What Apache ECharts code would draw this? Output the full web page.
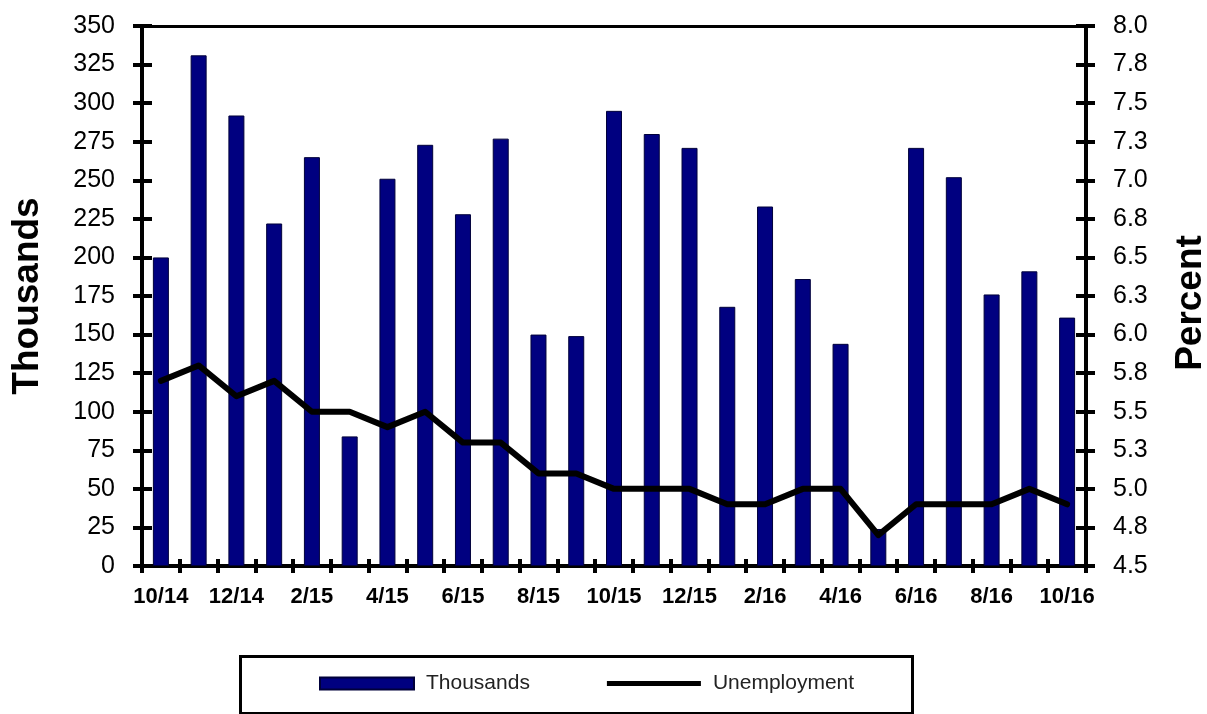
<!DOCTYPE html>
<html>
<head>
<meta charset="utf-8">
<script src="https://cdn.jsdelivr.net/npm/echarts@6/dist/echarts.min.js"></script>
<style>
  html, body { margin: 0; padding: 0; background: #fff; }
  #chart { width: 1207px; height: 714px; }
</style>
</head>
<body>
<div id="chart"></div>
<script>
// Monthly payroll change (thousands) and unemployment rate (percent)
const months = ['10/14','11/14','12/14','1/15','2/15','3/15','4/15','5/15','6/15','7/15','8/15','9/15',
                '10/15','11/15','12/15','1/16','2/16','3/16','4/16','5/16','6/16','7/16','8/16','9/16','10/16'];
const thousands = [200, 331, 292, 222, 265, 84, 251, 273, 228, 277, 150, 149,
                   295, 280, 271, 168, 233, 186, 144, 24, 271, 252, 176, 191, 161];
const unemployment = [5.7, 5.8, 5.6, 5.7, 5.5, 5.5, 5.4, 5.5, 5.3, 5.3, 5.1, 5.1,
                      5.0, 5.0, 5.0, 4.9, 4.9, 5.0, 5.0, 4.7, 4.9, 4.9, 4.9, 5.0, 4.9];
const thousandsAxis = { min: 0, max: 350, interval: 25 };
const percentAxis = { min: 4.5, max: 8.0, interval: 0.25 };

const FONT = "'Liberation Sans', Arial, sans-serif";
const INK = '#000';

function tickAxis(inside) {
  return { show: true, inside: inside, length: inside ? 10 : 9, lineStyle: { color: INK, width: 4 } };
}

const chart = echarts.init(document.getElementById('chart'), null, { renderer: 'canvas' });

chart.setOption({
  backgroundColor: '#fff',
  animation: false,
  grid: { left: 142, right: 121, top: 26, bottom: 148, containLabel: false, outerBoundsMode: 'none' },
  legend: {
    left: 319, top: 673, padding: 0,
    itemWidth: 94, itemHeight: 12, itemGap: 77,
    textStyle: { fontFamily: FONT, fontSize: 21, color: '#222', padding: [0, 0, 0, 7] },
    data: [
      { name: 'Thousands', icon: 'rect' },
      // thick bar of a line, kept in a 94x12 box by the two empty sub-paths
      { name: 'Unemployment', icon: 'path://M0,0L0,0M0,3.5L94,3.5L94,8.5L0,8.5ZM94,12L94,12' }
    ]
  },
  graphic: [{
    type: 'rect', left: 238, top: 654, z: -1,
    shape: { width: 672, height: 57 },
    style: { fill: 'none', stroke: INK, lineWidth: 3 }
  }],
  xAxis: [
    {
      type: 'category', data: months, position: 'bottom', boundaryGap: true,
      axisLine: { show: true, lineStyle: { color: INK, width: 4 } },
      axisTick: Object.assign(tickAxis(false), { interval: 0, length: 7 }),
      axisLabel: { interval: 1, margin: 20, fontFamily: FONT, fontWeight: 'bold', fontSize: 22, color: INK },
      splitLine: { show: false }
    },
    {
      type: 'category', data: months, position: 'bottom', boundaryGap: true,
      axisLine: { show: false },
      axisTick: Object.assign(tickAxis(true), { interval: 0, length: 7 }),
      axisLabel: { show: false }, splitLine: { show: false }
    },
    {
      type: 'category', data: months, position: 'top', boundaryGap: true,
      axisLine: { show: true, lineStyle: { color: INK, width: 3 } },
      axisTick: { show: false }, axisLabel: { show: false }, splitLine: { show: false }
    }
  ],
  yAxis: [
    {
      type: 'value', position: 'left', min: thousandsAxis.min, max: thousandsAxis.max, interval: thousandsAxis.interval,
      name: 'Thousands', nameLocation: 'middle', nameGap: 96, nameRotate: 90,
      nameTextStyle: { fontFamily: FONT, fontWeight: 'bold', fontSize: 37, color: INK },
      axisLine: { show: true, lineStyle: { color: INK, width: 4 } },
      axisTick: tickAxis(false),
      axisLabel: { margin: 27, fontFamily: FONT, fontSize: 25, color: INK },
      splitLine: { show: false }
    },
    {
      type: 'value', position: 'left', min: thousandsAxis.min, max: thousandsAxis.max, interval: thousandsAxis.interval,
      axisLine: { show: false }, axisTick: tickAxis(true), axisLabel: { show: false }, splitLine: { show: false }
    },
    {
      type: 'value', position: 'right', min: percentAxis.min, max: percentAxis.max, interval: percentAxis.interval,
      name: 'Percent', nameLocation: 'middle', nameGap: 86, nameRotate: 90,
      nameTextStyle: { fontFamily: FONT, fontWeight: 'bold', fontSize: 37, color: INK, padding: [0, 14, 0, 0] },
      axisLine: { show: true, lineStyle: { color: INK, width: 4 } },
      axisTick: tickAxis(false),
      axisLabel: {
        margin: 27, fontFamily: FONT, fontSize: 25, color: INK,
        formatter: v => (Math.round(v * 100) / 100).toFixed(1)
      },
      splitLine: { show: false }
    },
    {
      type: 'value', position: 'right', min: percentAxis.min, max: percentAxis.max, interval: percentAxis.interval,
      axisLine: { show: false }, axisTick: tickAxis(true), axisLabel: { show: false }, splitLine: { show: false }
    }
  ],
  series: [
    {
      name: 'Thousands', type: 'bar', xAxisIndex: 0, yAxisIndex: 0,
      data: thousands, barWidth: 16,
      itemStyle: { color: '#000080', borderColor: '#00003a', borderWidth: 1 },
      z: 2
    },
    {
      name: 'Unemployment', type: 'line', xAxisIndex: 0, yAxisIndex: 2,
      data: unemployment, symbol: 'none',
      lineStyle: { color: INK, width: 6, join: 'round', cap: 'round' },
      itemStyle: { color: INK },
      z: 3
    }
  ]
});
</script>
</body>
</html>
